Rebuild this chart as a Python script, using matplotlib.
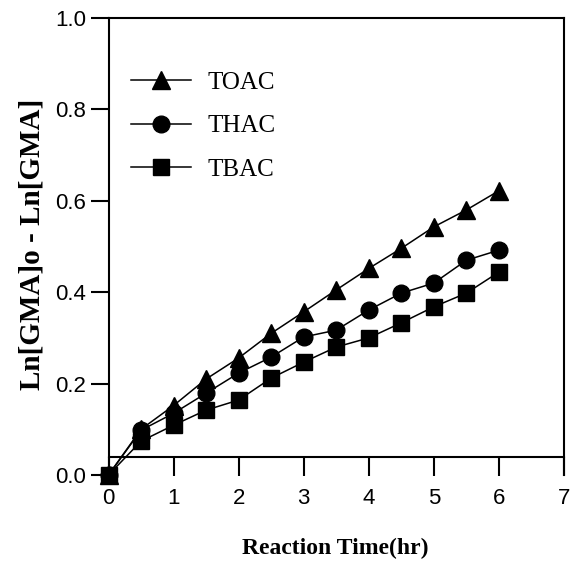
import matplotlib
matplotlib.use("Agg")
import matplotlib.pyplot as plt

# data
time_hr = [0, 0.5, 1, 1.5, 2, 2.5, 3, 3.5, 4, 4.5, 5, 5.5, 6]
toac = [0, 0.10, 0.152, 0.21, 0.256, 0.31, 0.357, 0.405, 0.452, 0.496, 0.543, 0.58, 0.622]
thac = [0, 0.098, 0.135, 0.179, 0.223, 0.258, 0.302, 0.317, 0.361, 0.398, 0.42, 0.47, 0.492]
tbac = [0, 0.074, 0.109, 0.142, 0.164, 0.212, 0.247, 0.28, 0.30, 0.333, 0.368, 0.398, 0.444]

x_ticks = [0, 1, 2, 3, 4, 5, 6, 7]
y_ticks = [0.0, 0.2, 0.4, 0.6, 0.8, 1.0]

W, H = 571, 565
fig = plt.figure(figsize=(W / 100, H / 100), dpi=100)
ax = fig.add_axes([108.5 / W, 1 - 475 / H, (564 - 108.5) / W, (475 - 18) / H])

ax.plot(time_hr, toac, color="black", lw=1.1, marker="^", ms=13, label="TOAC", clip_on=False, zorder=3)
ax.plot(time_hr, thac, color="black", lw=1.1, marker="o", ms=12, label="THAC", clip_on=False, zorder=3)
ax.plot(time_hr, tbac, color="black", lw=1.1, marker="s", ms=11, label="TBAC", clip_on=False, zorder=3)

ax.set_xlim(0, 7)
ax.set_ylim(0, 1.0)
ax.set_xticks(x_ticks)
ax.set_yticks(y_ticks)
ax.set_yticklabels(["%.1f" % v for v in y_ticks])

for s in ax.spines.values():
    s.set_linewidth(1.5)
ax.spines["bottom"].set_position(("data", 0.039))

ax.tick_params(axis="both", direction="out", width=1.5, labelsize=16)
ax.tick_params(axis="x", length=14, pad=8)
ax.tick_params(axis="y", length=13, pad=3)
for lab in ax.get_xticklabels() + ax.get_yticklabels():
    lab.set_fontfamily("Liberation Sans")

ax.set_xlabel("Reaction Time(hr)", fontfamily="Liberation Serif", fontweight="bold",
              fontsize=17, va="center")
ax.xaxis.set_label_coords(0.497, -0.16)
ax.set_ylabel("Ln[GMA]o - Ln[GMA]", fontfamily="Liberation Serif", fontweight="bold",
              fontsize=21, va="center")
ax.yaxis.set_label_coords(-0.168, 0.505)

ax.legend(loc="upper left", bbox_to_anchor=(0.049, 0.884), frameon=False, borderpad=0,
          borderaxespad=0, handlelength=2.4, handletextpad=0.65, labelspacing=0.85,
          prop={"family": "Liberation Serif", "size": 18})

plt.savefig("out.png", dpi=100)
